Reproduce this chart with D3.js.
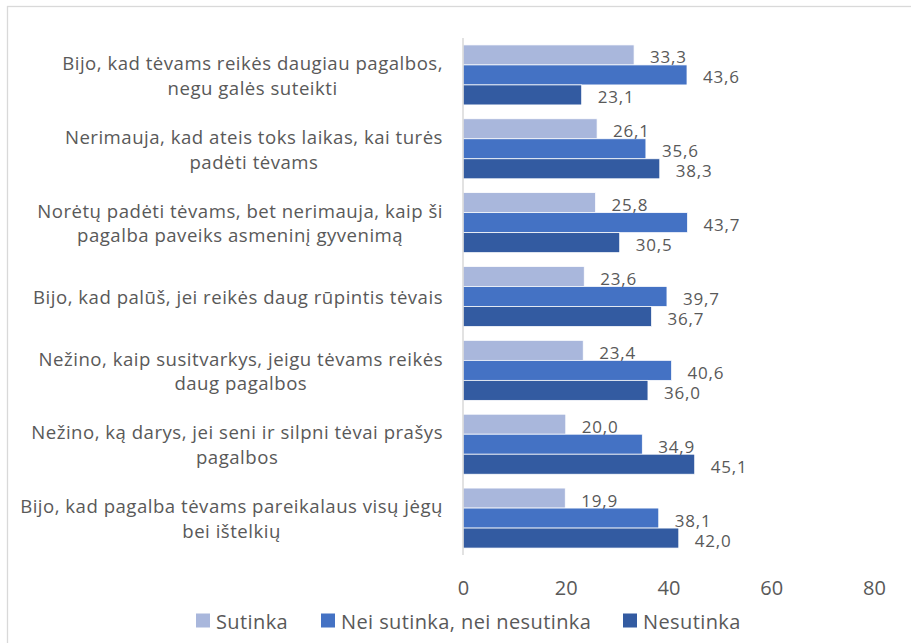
<!DOCTYPE html>
<html>
<head>
<meta charset="utf-8">
<script src="https://cdn.jsdelivr.net/npm/d3@7"></script>
<style>
  html, body { margin: 0; padding: 0; background: #fff; }
  svg { display: block; }
  text { font-family: "Open Sans", sans-serif; fill: #595959; }
</style>
</head>
<body>
<svg id="chart" width="911" height="643"></svg>
<script>
const categories = [
  "Bijo, kad tėvams reikės daugiau pagalbos,\nnegu galės suteikti",
  "Nerimauja, kad ateis toks laikas, kai turės\npadėti tėvams",
  "Norėtų padėti tėvams, bet nerimauja, kaip ši\npagalba paveiks asmeninį gyvenimą",
  "Bijo, kad palūš, jei reikės daug rūpintis tėvais",
  "Nežino, kaip susitvarkys, jeigu tėvams reikės\ndaug pagalbos",
  "Nežino, ką darys, jei seni ir silpni tėvai prašys\npagalbos",
  "Bijo, kad pagalba tėvams pareikalaus visų jėgų\nbei ištelkių"
];
const seriesNames = ["Sutinka", "Nei sutinka, nei nesutinka", "Nesutinka"];
const sutinka = [33.3, 26.1, 25.8, 23.6, 23.4, 20.0, 19.9];
const neiNei = [43.6, 35.6, 43.7, 39.7, 40.6, 34.9, 38.1];
const nesutinka = [23.1, 38.3, 30.5, 36.7, 36.0, 45.1, 42.0];
const xTicks = [0, 20, 40, 60, 80];
const colors = ["#A9B7DC", "#4472C4", "#335BA1"];

const seriesValues = [sutinka, neiNei, nesutinka];

const svg = d3.select("#chart");

svg.append("rect")
  .attr("x", 7.5).attr("y", 6.5).attr("width", 920).attr("height", 660)
  .attr("fill", "none").attr("stroke", "#D9D9D9").attr("stroke-width", 1.3);

const x = d3.scaleLinear().domain([0, 80]).range([463, 874]);
const y = d3.scaleBand().domain(d3.range(categories.length)).range([38, 555])
  .paddingInner(0.1877).paddingOuter(0.0939);
const ySub = d3.scaleBand().domain(d3.range(3)).range([0, y.bandwidth()]);

const fmt = v => d3.format(".1f")(v).replace(".", ",");

const groups = svg.append("g").selectAll("g")
  .data(categories.map((c, i) => i))
  .join("g")
  .attr("transform", i => `translate(0,${y(i)})`);

groups.selectAll("rect")
  .data(i => seriesValues.map((s, k) => ({k, v: s[i]})))
  .join("rect")
  .attr("x", x(0))
  .attr("y", d => ySub(d.k))
  .attr("width", d => x(d.v) - x(0))
  .attr("height", ySub.bandwidth())
  .attr("fill", d => colors[d.k])
  .attr("stroke", "#fff").attr("stroke-width", 0.75);

groups.selectAll("text.val")
  .data(i => seriesValues.map((s, k) => ({k, v: s[i]})))
  .join("text")
  .attr("class", "val")
  .attr("x", d => x(d.v) + 16)
  .attr("y", d => ySub(d.k) + ySub.bandwidth() / 2 + 2)
  .attr("dominant-baseline", "central")
  .attr("font-size", 17)
  .attr("letter-spacing", 0.8)
  .text(d => fmt(d.v));

svg.append("line")
  .attr("x1", x(0)).attr("x2", x(0))
  .attr("y1", 38).attr("y2", 555)
  .attr("stroke", "#D9D9D9").attr("stroke-width", 1.5);

const rightEdge = 443;
const lineH = 24.5;
categories.forEach((c, i) => {
  const lines = c.split("\n");
  const g = svg.append("g");
  const texts = lines.map((ln, j) => g.append("text")
    .attr("font-size", 18.6)
    .attr("letter-spacing", 0.5)
    .attr("text-anchor", "middle")
    .attr("dominant-baseline", "central")
    .attr("y", y(i) + y.bandwidth() / 2 + (j - (lines.length - 1) / 2) * lineH)
    .text(ln));
  const w = d3.max(texts, t => t.node().getComputedTextLength());
  texts.forEach(t => t.attr("x", rightEdge - w / 2));
});

const xAxis = d3.axisBottom(x).tickValues(xTicks).tickSize(0).tickPadding(0);
const ax = svg.append("g").attr("transform", "translate(0,580.5)").call(xAxis);
ax.select(".domain").remove();
ax.selectAll("text").attr("font-size", 20).attr("font-family", "'Open Sans', sans-serif").attr("fill", "#595959");

const legendItems = [
  {name: seriesNames[0], c: colors[0], sx: 196},
  {name: seriesNames[1], c: colors[1], sx: 321},
  {name: seriesNames[2], c: colors[2], sx: 623}
];
const lg = svg.append("g");
legendItems.forEach(it => {
  lg.append("rect").attr("x", it.sx).attr("y", 613.5).attr("width", 14).attr("height", 14).attr("fill", it.c);
  lg.append("text").attr("x", it.sx + 20).attr("y", 621)
    .attr("dominant-baseline", "central").attr("font-size", 20).attr("letter-spacing", 0.4).text(it.name);
});
</script>
</body>
</html>
